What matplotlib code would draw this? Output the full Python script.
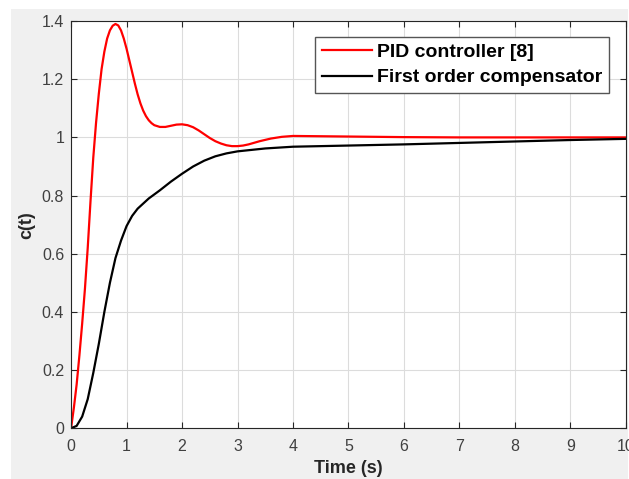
import matplotlib
matplotlib.use("Agg")
import matplotlib.pyplot as plt
from matplotlib.patches import Rectangle

# step response
t_pid = [0, 0.05, 0.1, 0.15, 0.2, 0.25, 0.3, 0.35, 0.4, 0.45, 0.5, 0.55, 0.6, 0.65, 0.7,
         0.75, 0.8, 0.85, 0.9, 0.95, 1.0, 1.05, 1.1, 1.15, 1.2, 1.25, 1.3, 1.35, 1.4, 1.45,
         1.5, 1.6, 1.7, 1.8, 1.9,
         2.0, 2.1, 2.2, 2.3, 2.4, 2.5, 2.6, 2.7, 2.8, 2.9, 3.0, 3.1, 3.2, 3.4, 3.6,
         3.8, 4.0, 4.5, 5, 6, 7, 8, 9, 10]
c_pid = [0, 0.07, 0.15, 0.25, 0.36, 0.48, 0.62, 0.78, 0.93, 1.05, 1.15, 1.235, 1.295, 1.34, 1.368,
         1.384, 1.39, 1.385, 1.368, 1.34, 1.305, 1.265, 1.225, 1.185, 1.148, 1.117, 1.092, 1.073, 1.059, 1.049,
         1.042, 1.036, 1.036, 1.04, 1.044,
         1.045, 1.042, 1.035, 1.024, 1.011, 0.998, 0.987, 0.979, 0.973, 0.97, 0.97, 0.972, 0.976, 0.987, 0.996,
         1.002, 1.005, 1.004, 1.003, 1.001, 1.0, 1.0, 1.0, 1.0]

t_comp = [0, 0.1, 0.2, 0.3, 0.4, 0.5, 0.6, 0.7, 0.8, 0.9, 1.0, 1.1, 1.2, 1.4, 1.6, 1.8,
          2.0, 2.2, 2.4, 2.6, 2.8, 3.0, 3.5, 4, 5, 6, 7, 8, 9, 10]
c_comp = [0, 0.008, 0.04, 0.1, 0.19, 0.29, 0.4, 0.5, 0.585, 0.645, 0.695, 0.73, 0.755, 0.79, 0.818, 0.848,
          0.875, 0.90, 0.92, 0.935, 0.945, 0.952, 0.962, 0.968, 0.972, 0.976, 0.981, 0.986, 0.991, 0.995]

plt.rcParams['font.family'] = ['Liberation Sans', 'DejaVu Sans']

fig = plt.figure(figsize=(6.29, 4.79), dpi=100, facecolor='white')
fig.patches.append(Rectangle((11 / 629, 0), 617 / 629, 470 / 479, transform=fig.transFigure,
                             facecolor='#f0f0f0', edgecolor='none', zorder=-10))
ax = fig.add_axes([0.113, 0.106, 0.882, 0.850])
ax.set_facecolor('white')

ax.plot(t_pid, c_pid, color='#ff0000', lw=1.6, label='PID controller [8]')
ax.plot(t_comp, c_comp, color='black', lw=1.6, label='First order compensator')

ax.set_xlim(0, 10)
ax.set_ylim(0, 1.4)
ax.set_xticks(range(0, 11))
ax.set_yticks([0, 0.2, 0.4, 0.6, 0.8, 1, 1.2, 1.4])
ax.set_yticklabels(['0', '0.2', '0.4', '0.6', '0.8', '1', '1.2', '1.4'])
ax.grid(True, color='#dcdcdc', lw=0.8)
ax.tick_params(direction='in', top=True, right=True, labelsize=11.5, labelcolor='#404040',
               color='#262626', length=4, pad=5)
ax.tick_params(axis='x', pad=8)
for s in ax.spines.values():
    s.set_color('#262626')

ax.set_xlabel('Time (s)', fontsize=13, fontweight='bold', color='#262626', labelpad=4)
ax.set_ylabel('c(t)', fontsize=13, fontweight='bold', color='#262626', labelpad=5)

leg = ax.legend(loc='upper right', bbox_to_anchor=(0.970, 0.962),
                prop={'weight': 'bold', 'size': 14}, fancybox=False, framealpha=1,
                edgecolor='#555555', handlelength=2.6, handletextpad=0.25,
                borderpad=0.35, labelspacing=0.4, borderaxespad=0)
leg.get_frame().set_linewidth(1.0)

fig.savefig('out.png', dpi=100, facecolor=fig.get_facecolor())
